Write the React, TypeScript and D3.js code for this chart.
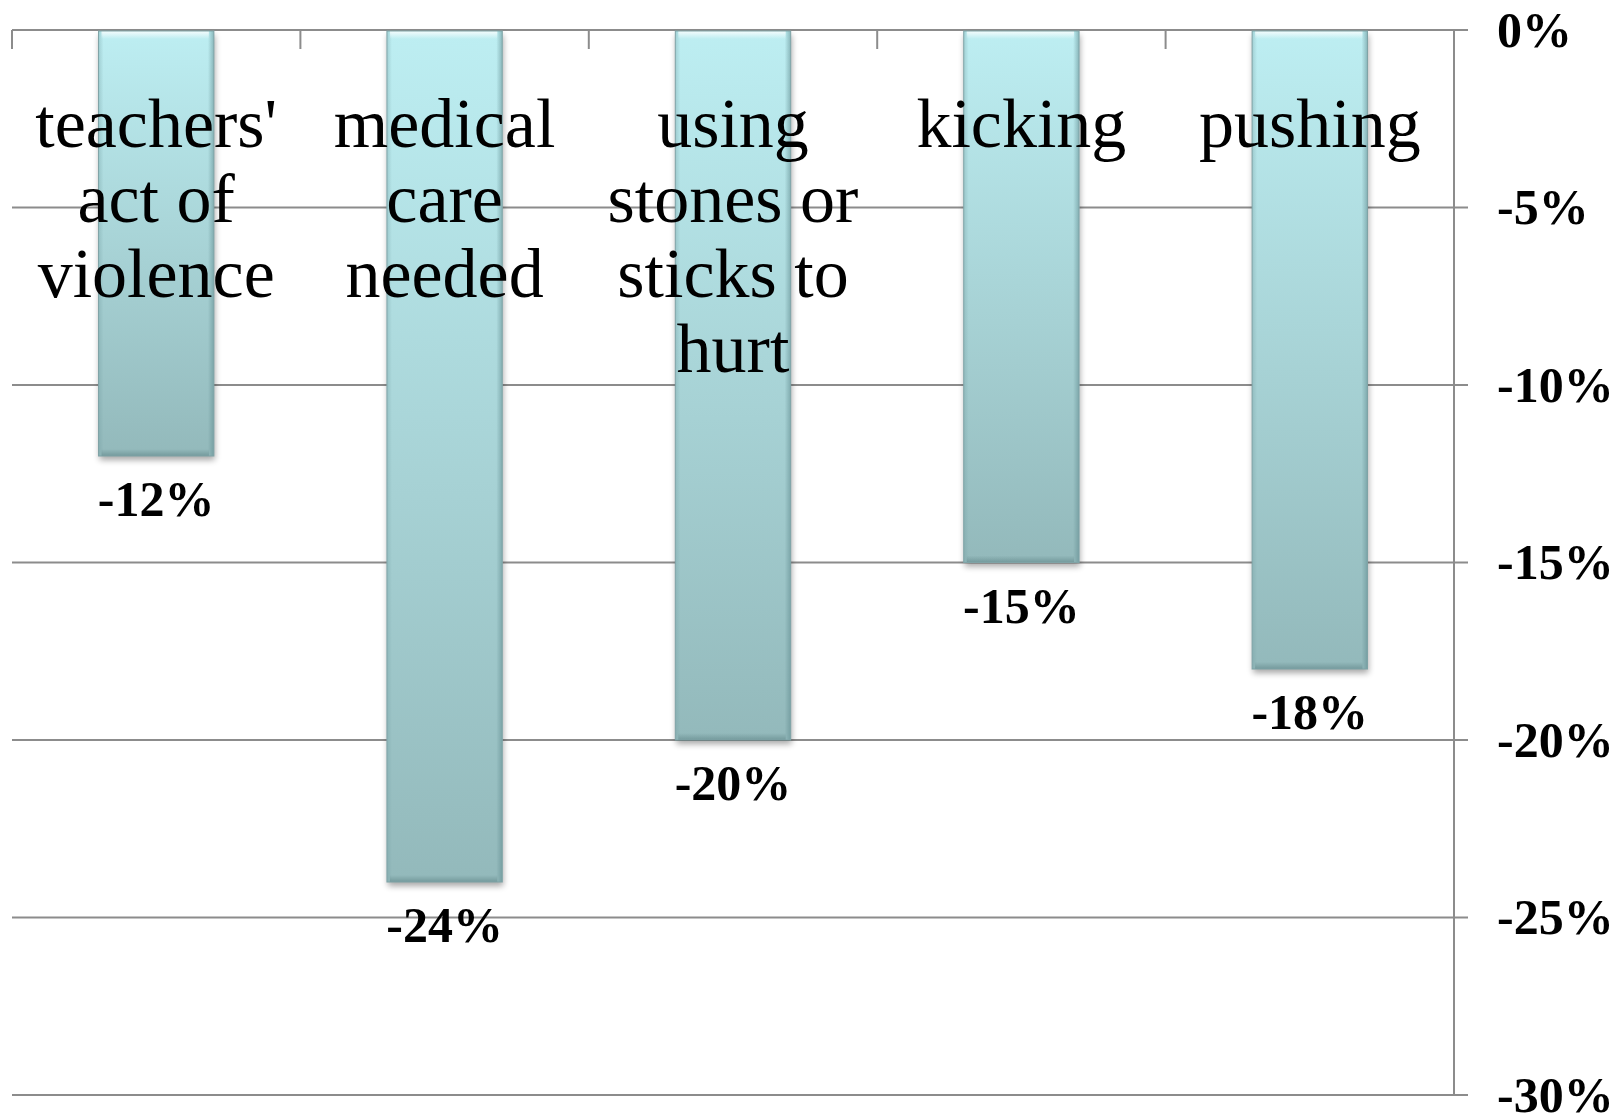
import React from "react";
import * as d3 from "d3";

const categories: string[][] = [
  ["teachers'", "act of", "violence"],
  ["medical", "care", "needed"],
  ["using", "stones or", "sticks to", "hurt"],
  ["kicking"],
  ["pushing"],
];
const values: number[] = [-0.12, -0.24, -0.2, -0.15, -0.18];
const yTicks: number[] = [0, -0.05, -0.1, -0.15, -0.2, -0.25, -0.3];

const W = 1623;
const H = 1116;
const left = 12;
const right = 1454;
const top = 30;
const bottom = 1095;

// percent with a plain hyphen for the sign
const pct = (v: number) => d3.format(".0%")(v).replace("\u2212", "-");

export default function App() {
  const x = d3
    .scaleBand<number>()
    .domain(values.map((_, i) => i))
    .range([left, right])
    .paddingInner(0.6)
    .paddingOuter(0.3);
  const y = d3.scaleLinear().domain([0, -0.3]).range([top, bottom]);
  const step = (right - left) / values.length;
  const serif = "'Liberation Serif', 'Times New Roman', serif";

  return (
    <svg
      width={W}
      height={H}
      style={{ position: "absolute", left: 0, top: 0, background: "#fff" }}
    >
      <defs>
        <linearGradient id="barFill" x1="0" y1="0" x2="0" y2="1">
          <stop offset="0" stopColor="#bdeef2" />
          <stop offset="1" stopColor="#93b9bb" />
        </linearGradient>
        <linearGradient id="edgeR" x1="0" y1="0" x2="1" y2="0">
          <stop offset="0" stopColor="#5f8a8e" stopOpacity="0" />
          <stop offset="1" stopColor="#5f8a8e" stopOpacity="0.55" />
        </linearGradient>
        <linearGradient id="edgeL" x1="0" y1="0" x2="1" y2="0">
          <stop offset="0" stopColor="#6f9a9e" stopOpacity="0.35" />
          <stop offset="1" stopColor="#6f9a9e" stopOpacity="0" />
        </linearGradient>
        <linearGradient id="edgeT" x1="0" y1="0" x2="0" y2="1">
          <stop offset="0" stopColor="#ffffff" stopOpacity="0.85" />
          <stop offset="1" stopColor="#ffffff" stopOpacity="0" />
        </linearGradient>
        <linearGradient id="edgeB" x1="0" y1="0" x2="0" y2="1">
          <stop offset="0" stopColor="#557a7d" stopOpacity="0" />
          <stop offset="1" stopColor="#557a7d" stopOpacity="0.5" />
        </linearGradient>
        <filter id="shadow" x="-20%" y="-5%" width="140%" height="115%">
          <feGaussianBlur in="SourceAlpha" stdDeviation="3" />
          <feOffset dx="1" dy="4" result="b" />
          <feComponentTransfer>
            <feFuncA type="linear" slope="0.35" />
          </feComponentTransfer>
          <feMerge>
            <feMergeNode />
            <feMergeNode in="SourceGraphic" />
          </feMerge>
        </filter>
      </defs>

      {/* horizontal gridlines with outward ticks on the right */}
      {yTicks.map((t) => (
        <line
          key={t}
          x1={left}
          x2={right + 14}
          y1={y(t)}
          y2={y(t)}
          stroke="#8c8c8c"
          strokeWidth={2}
        />
      ))}
      {/* category tick marks hanging from the zero line */}
      {d3.range(values.length).map((i) => (
        <line
          key={i}
          x1={left + i * step}
          x2={left + i * step}
          y1={y(0)}
          y2={y(0) + 19}
          stroke="#8c8c8c"
          strokeWidth={2}
        />
      ))}
      {/* value axis on the right */}
      <line x1={right} x2={right} y1={y(0)} y2={y(-0.3)} stroke="#8c8c8c" strokeWidth={2} />

      {/* bars */}
      {values.map((v, i) => {
        const bx = x(i)!;
        const bw = x.bandwidth();
        const by = y(0) + 1;
        const bh = y(v) - by;
        return (
          <g key={i}>
            <rect x={bx} y={by} width={bw} height={bh} fill="url(#barFill)" filter="url(#shadow)" />
            <rect x={bx + bw - 6} y={by} width={6} height={bh} fill="url(#edgeR)" />
            <rect x={bx} y={by} width={5} height={bh} fill="url(#edgeL)" />
            <rect x={bx + 3} y={by} width={bw - 8} height={8} fill="url(#edgeT)" />
            <rect x={bx + 3} y={by + bh - 7} width={bw - 8} height={7} fill="url(#edgeB)" />
            <rect x={bx} y={by} width={bw} height={bh} fill="none" stroke="#7fa3a6" strokeWidth={1} />
          </g>
        );
      })}

      {/* category labels */}
      {categories.map((lines, i) => {
        const cx = x(i)! + x.bandwidth() / 2;
        return (
          <text
            key={i}
            x={cx}
            textAnchor="middle"
            fontFamily={serif}
            fontSize={70}
            fill="#000"
          >
            {lines.map((l, k) => (
              <tspan key={k} x={cx} y={147 + k * 75}>
                {l}
              </tspan>
            ))}
          </text>
        );
      })}

      {/* value labels */}
      {values.map((v, i) => (
        <text
          key={i}
          x={x(i)! + x.bandwidth() / 2}
          y={y(v) + 60}
          textAnchor="middle"
          fontFamily={serif}
          fontWeight="bold"
          fontSize={50}
          fill="#000"
        >
          {pct(v)}
        </text>
      ))}

      {/* value axis labels */}
      {yTicks.map((t) => (
        <text
          key={t}
          x={1497}
          y={y(t)}
          dy="0.33em"
          fontFamily={serif}
          fontWeight="bold"
          fontSize={50}
          fill="#000"
        >
          {pct(t)}
        </text>
      ))}
    </svg>
  );
}
